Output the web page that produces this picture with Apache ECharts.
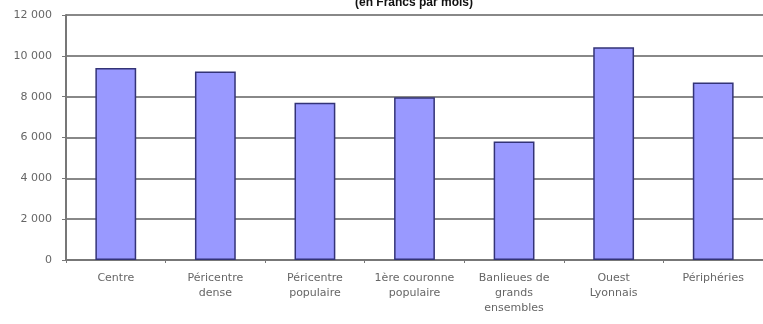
<!DOCTYPE html>
<html>
<head>
<meta charset="utf-8">
<script src="https://cdn.jsdelivr.net/npm/echarts@6/dist/echarts.min.js"></script>
<style>html,body{margin:0;padding:0;background:#fff;}#c{width:763px;height:324px;}</style>
</head>
<body>
<div id="c"></div>
<script>
const categories = ["Centre", "Péricentre\ndense", "Péricentre\npopulaire", "1ère couronne\npopulaire", "Banlieues de\ngrands\nensembles", "Ouest\nLyonnais", "Périphéries"];
const values = [9400, 9230, 7700, 7970, 5800, 10420, 8700];
const titleText = "(en Francs par mois)";

const chart = echarts.init(document.getElementById('c'), null, {renderer: 'canvas'});
chart.setOption({
  animation: false,
  backgroundColor: '#fff',
  title: {
    text: titleText, left: 409, top: -8, textAlign: 'center',
    textStyle: {fontFamily: 'Liberation Sans', fontSize: 12, fontWeight: 'bold', color: '#111'}
  },
  grid: {left: 66, top: 15, width: 706, height: 245, containLabel: false},
  xAxis: {
    type: 'category', data: categories,
    axisLine: {lineStyle: {color: '#777', width: 2}},
    axisTick: {show: true, length: 3, lineStyle: {color: '#777', width: 1}},
    axisLabel: {interval: 0, fontFamily: 'DejaVu Sans', fontSize: 11, color: '#666', lineHeight: 15, margin: 11}
  },
  yAxis: {
    type: 'value', min: 0, max: 12000, interval: 2000,
    axisLine: {show: true, lineStyle: {color: '#777', width: 2}},
    axisTick: {show: true, length: 4, lineStyle: {color: '#777'}},
    splitLine: {lineStyle: {color: '#888', width: 2}},
    axisLabel: {
      fontFamily: 'DejaVu Sans', fontSize: 11, color: '#666', margin: 14,
      formatter: v => String(v).replace(/\B(?=(\d{3})+(?!\d))/g, ' ')
    }
  },
  series: [{
    type: 'bar', data: values, barWidth: '41%',
    itemStyle: {color: '#9999ff', borderColor: '#333377', borderWidth: 1.5}
  }]
});
</script>
</body>
</html>
